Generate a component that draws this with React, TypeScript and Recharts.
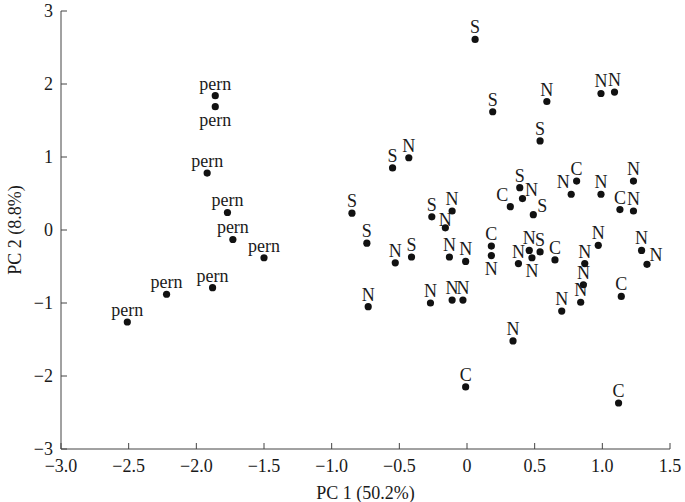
import { ScatterChart, Scatter, XAxis, YAxis, Label } from 'recharts';

// PCA scores
const pernX = [-1.86, -1.86, -1.92, -1.77, -1.73, -1.5, -1.88, -2.22, -2.51];
const pernY = [1.84, 1.69, 0.78, 0.24, -0.13, -0.38, -0.79, -0.88, -1.26];

const sX = [0.06, 0.19, 0.54, -0.55, -0.85, 0.39, -0.26, 0.49, -0.74, -0.41, 0.54];
const sY = [2.61, 1.62, 1.22, 0.85, 0.23, 0.58, 0.18, 0.21, -0.18, -0.37, -0.3];

const nX = [-0.43, 0.59, 0.99, 1.09, 0.41, -0.11, -0.16, 0.77, 0.99, 1.23, 1.23, -0.53, -0.13, -0.01, 0.18,
  0.38, 0.46, 0.48, 0.97, 0.87, 0.86, 0.84, 0.7, 1.29, 1.33, -0.73, -0.27, -0.11, -0.03, 0.34];
const nY = [0.99, 1.76, 1.87, 1.89, 0.43, 0.26, 0.03, 0.49, 0.49, 0.67, 0.26, -0.45, -0.37, -0.43, -0.35,
  -0.46, -0.28, -0.38, -0.21, -0.46, -0.75, -0.99, -1.11, -0.28, -0.47, -1.05, -1.0, -0.96, -0.96, -1.52];

const cX = [0.32, 0.81, 1.13, 0.18, 0.65, 1.14, -0.01, 1.12];
const cY = [0.32, 0.67, 0.28, -0.22, -0.41, -0.91, -2.15, -2.37];

const xTicks = [-3, -2.5, -2, -1.5, -1, -0.5, 0, 0.5, 1, 1.5];
const yTicks = [-3, -2, -1, 0, 1, 2, 3];

// where each label sits relative to its dot (a = above, b = below, ar/al = above right/left, ac = above, close)
const pernSide = ['a', 'b', 'a', 'a', 'a', 'a', 'a', 'a', 'a'];
const sSide = ['a', 'a', 'a', 'a', 'a', 'a', 'a', 'ar', 'a', 'a', 'a'];
const nSide = ['a', 'a', 'a', 'a', 'ar', 'a', 'ac', 'al', 'a', 'a', 'a', 'a', 'a', 'a', 'b',
  'a', 'a', 'b', 'a', 'a', 'a', 'a', 'a', 'a', 'ar', 'a', 'a', 'a', 'a', 'a'];
const cSide = ['al', 'a', 'a', 'a', 'a', 'a', 'a', 'a'];

const toPoints = (xs: number[], ys: number[], name: string, sides: string[]) =>
  xs.map((x, i) => ({ x, y: ys[i], name, side: sides[i] }));

const FONT = '"Liberation Serif", "Times New Roman", serif';
const INK = '#1a1a1a';

const fmt = (v: number, digits: number) => {
  if (v === 0) return '0';
  const s = Math.abs(v).toFixed(digits);
  return v < 0 ? '\u2212' + s : s;
};

const offsets: Record<string, [number, number]> = {
  a: [0, -6],
  ac: [0, -2],
  b: [0, 19],
  ar: [9, -3],
  al: [-8, -6],
};

const Dot = (props: any) => {
  const { cx, cy, payload } = props;
  if (cx == null || cy == null) return null;
  const [dx, dy] = offsets[payload.side] || offsets.a;
  return (
    <g>
      <circle cx={cx} cy={cy} r={3.6} fill="#111" />
      <text x={cx + dx} y={cy + dy} textAnchor="middle" fontFamily={FONT} fontSize={18} fill={INK}>
        {payload.name}
      </text>
    </g>
  );
};

export default function App() {
  const tickStyle = { fontFamily: FONT, fontSize: 18, fill: INK };
  return (
    <div style={{ position: 'absolute', left: 0, top: 0, width: 685, height: 502, background: '#fff' }}>
      <ScatterChart width={685} height={502} margin={{ top: 11, right: 15, bottom: 0, left: 0 }}>
        <XAxis
          type="number"
          dataKey="x"
          domain={[-3, 1.5]}
          ticks={xTicks}
          tickFormatter={(v) => fmt(v, 1)}
          height={53}
          tickSize={-6}
          tickMargin={16}
          tick={tickStyle}
          stroke="#444"
          interval={0}
        >
          <Label
            value="PC 1 (50.2%)"
            position="insideBottom"
            offset={3}
            style={{ fontFamily: FONT, fontSize: 18, fill: INK }}
          />
        </XAxis>
        <YAxis
          type="number"
          dataKey="y"
          domain={[-3, 3]}
          ticks={yTicks}
          tickFormatter={(v) => fmt(v, 0)}
          width={61}
          tickSize={-6}
          tickMargin={14}
          tick={tickStyle}
          stroke="#444"
          interval={0}
        >
          <Label
            value="PC 2 (8.8%)"
            angle={-90}
            position="insideLeft"
            offset={15}
            style={{ fontFamily: FONT, fontSize: 18, fill: INK, textAnchor: 'middle' }}
          />
        </YAxis>
        <Scatter data={toPoints(pernX, pernY, 'pern', pernSide)} shape={Dot} isAnimationActive={false} />
        <Scatter data={toPoints(sX, sY, 'S', sSide)} shape={Dot} isAnimationActive={false} />
        <Scatter data={toPoints(nX, nY, 'N', nSide)} shape={Dot} isAnimationActive={false} />
        <Scatter data={toPoints(cX, cY, 'C', cSide)} shape={Dot} isAnimationActive={false} />
      </ScatterChart>
    </div>
  );
}
